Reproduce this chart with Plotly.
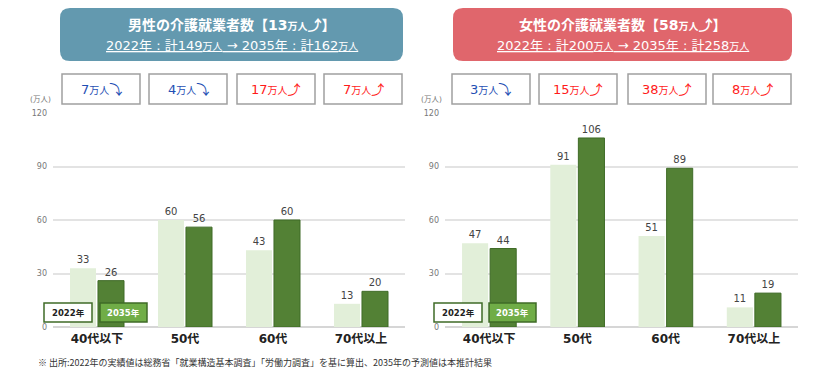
import plotly.graph_objects as go

categories = ["40代以下", "50代", "60代", "70代以上"]
male_2022 = [33, 60, 43, 13]
male_2035 = [26, 56, 60, 20]
female_2022 = [47, 91, 51, 11]
female_2035 = [44, 106, 89, 19]
male_diff = ["7", "4", "17", "7"]
male_dir = ["down", "down", "up", "up"]
female_diff = ["3", "15", "38", "8"]
female_dir = ["down", "up", "up", "up"]
y_ticks = [0, 30, 60, 90, 120]

FONT = "Noto Sans CJK JP, DejaVu Sans, sans-serif"
WFONT = "DejaVu Sans, Noto Sans CJK JP, sans-serif"
W, H = 840, 380
OX, OY = 8, 8  # page body margin offset
LIGHT = "#E2EFD9"
DARK = "#538135"
DARKLINE = "#3F6B27"

fig = go.Figure()

def add_bars(xa, ya, v22, v35):
    fig.add_trace(go.Bar(x=categories, y=v22, xaxis=xa, yaxis=ya, marker=dict(color=LIGHT, line=dict(width=0)),
                         text=[str(v) for v in v22], textposition="outside",
                         textfont=dict(size=10, color="#444", family=WFONT), cliponaxis=False, showlegend=False))
    fig.add_trace(go.Bar(x=categories, y=v35, xaxis=xa, yaxis=ya, marker=dict(color=DARK, line=dict(width=1, color=DARKLINE)),
                         text=[str(v) for v in v35], textposition="outside",
                         textfont=dict(size=10, color="#444", family=WFONT), cliponaxis=False, showlegend=False))

add_bars("x", "y", male_2022, male_2035)
add_bars("x2", "y2", female_2022, female_2035)

def px2x(px):
    return (px - OX) / W

def px2y(py):
    return 1 - (py - OY) / H

ydom = [px2y(327), px2y(113)]
yax = dict(range=[0, 120], tickvals=y_ticks, domain=ydom, showgrid=True, gridcolor="#E3E3E3", gridwidth=2,
           zeroline=True, zerolinecolor="#D6D6D6", zerolinewidth=2, showline=False, automargin=False,
           tickfont=dict(size=8, color="#777", family=WFONT), ticks="", ticklabelstandoff=5, fixedrange=True)
xax = dict(range=[-0.5, 3.5], showgrid=False, zeroline=False, showline=False, ticks="", automargin=False,
           tickfont=dict(size=12, color="#222", family=WFONT), ticklabelstandoff=3, fixedrange=True)

fig.update_layout(
    width=W, height=H, margin=dict(l=0, r=0, t=0, b=0, pad=0, autoexpand=False),
    paper_bgcolor="white", plot_bgcolor="white",
    barmode="group", bargap=0.364, bargroupgap=0.07,
    font=dict(family=FONT),
    xaxis=dict(xax, domain=[px2x(53), px2x(405)], anchor="y"),
    yaxis=dict(yax, anchor="x"),
    xaxis2=dict(xax, domain=[px2x(445), px2x(798)], anchor="y2"),
    yaxis2=dict(yax, anchor="x2"),
)
fig.update_xaxes(tickvals=categories, ticktext=["<b>%s</b>" % c for c in categories])

shapes = []
annotations = []

def ann(x, y, text, size, color, xanchor="center", family=WFONT):
    annotations.append(dict(x=px2x(x), y=px2y(y), xref="paper", yref="paper", showarrow=False,
                            xanchor=xanchor, yanchor="middle", text=text,
                            font=dict(size=size, color=color, family=family)))

def rounded(x0, y0, x1, y1, r, fill):
    X0, X1 = px2x(x0), px2x(x1)
    Y0, Y1 = px2y(y0), px2y(y1)
    rx, ry = r / W, r / H
    path = (f"M {X0+rx},{Y0} L {X1-rx},{Y0} Q {X1},{Y0} {X1},{Y0-ry} L {X1},{Y1+ry} Q {X1},{Y1} {X1-rx},{Y1} "
            f"L {X0+rx},{Y1} Q {X0},{Y1} {X0},{Y1+ry} L {X0},{Y0-ry} Q {X0},{Y0} {X0+rx},{Y0} Z")
    shapes.append(dict(type="path", path=path, xref="paper", yref="paper", fillcolor=fill, line=dict(width=0), layer="above"))

def header(x0, x1, fill, title, inc, t22, t35):
    rounded(x0, 8, x1, 61, 10, fill)
    cx = (x0 + x1) / 2
    ann(cx, 25, f"<b>{title}【{inc}<span style='font-size:10px'>万人</span>⤴】</b>", 14, "white")
    ann(cx, 46, f"<u>2022年 : 計{t22}<span style='font-size:10px'>万人</span> → 2035年 : 計{t35}<span style='font-size:10px'>万人</span></u>",
        13, "white")

header(60, 403, "#6399AF", "男性の介護就業者数", 13, 149, 162)
header(453, 792, "#E0666C", "女性の介護就業者数", 58, 200, 258)

def diff_boxes(lefts, diffs, dirs):
    for x0, d, s in zip(lefts, diffs, dirs):
        x1 = x0 + 78
        shapes.append(dict(type="rect", xref="paper", yref="paper", x0=px2x(x0), x1=px2x(x1), y0=px2y(104), y1=px2y(74),
                           fillcolor="white", line=dict(color="#A0A0A0", width=1.5)))
        col = "#1F4FB4" if s == "down" else "#FF1A1A"
        arrow = "⤵" if s == "down" else "⤴"
        ann((x0 + x1) / 2, 89, f"{d}<span style='font-size:10px'>万人</span>{arrow}", 13, col)

diff_boxes([62, 149, 237, 324], male_diff, male_dir)
diff_boxes([452, 539, 628, 713], female_diff, female_dir)

def legend_boxes(x0a, x0b):
    shapes.append(dict(type="rect", xref="paper", yref="paper", x0=px2x(x0a), x1=px2x(x0a + 48), y0=px2y(322), y1=px2y(303),
                       fillcolor="white", line=dict(color="#3F6B27", width=1.5), layer="above"))
    shapes.append(dict(type="rect", xref="paper", yref="paper", x0=px2x(x0b), x1=px2x(x0b + 47), y0=px2y(322), y1=px2y(303),
                       fillcolor="#70AD47", line=dict(color="#3F6B27", width=1.5), layer="above"))
    ann(x0a + 24, 312.5, "<b>2022年</b>", 8.5, "#222")
    ann(x0b + 23.5, 312.5, "<b>2035年</b>", 8.5, "white")

legend_boxes(44, 100)
legend_boxes(434, 489)

for xx in [40, 431]:
    ann(xx, 100, "(万人)", 7.5, "#777")

ann(36, 362, "※ 出所:2022年の実績値は総務省「就業構造基本調査」「労働力調査」を基に算出、2035年の予測値は本推計結果",
    9, "#333", xanchor="left", family=FONT)

fig.update_layout(shapes=shapes, annotations=annotations)
fig.write_html("out.html")
